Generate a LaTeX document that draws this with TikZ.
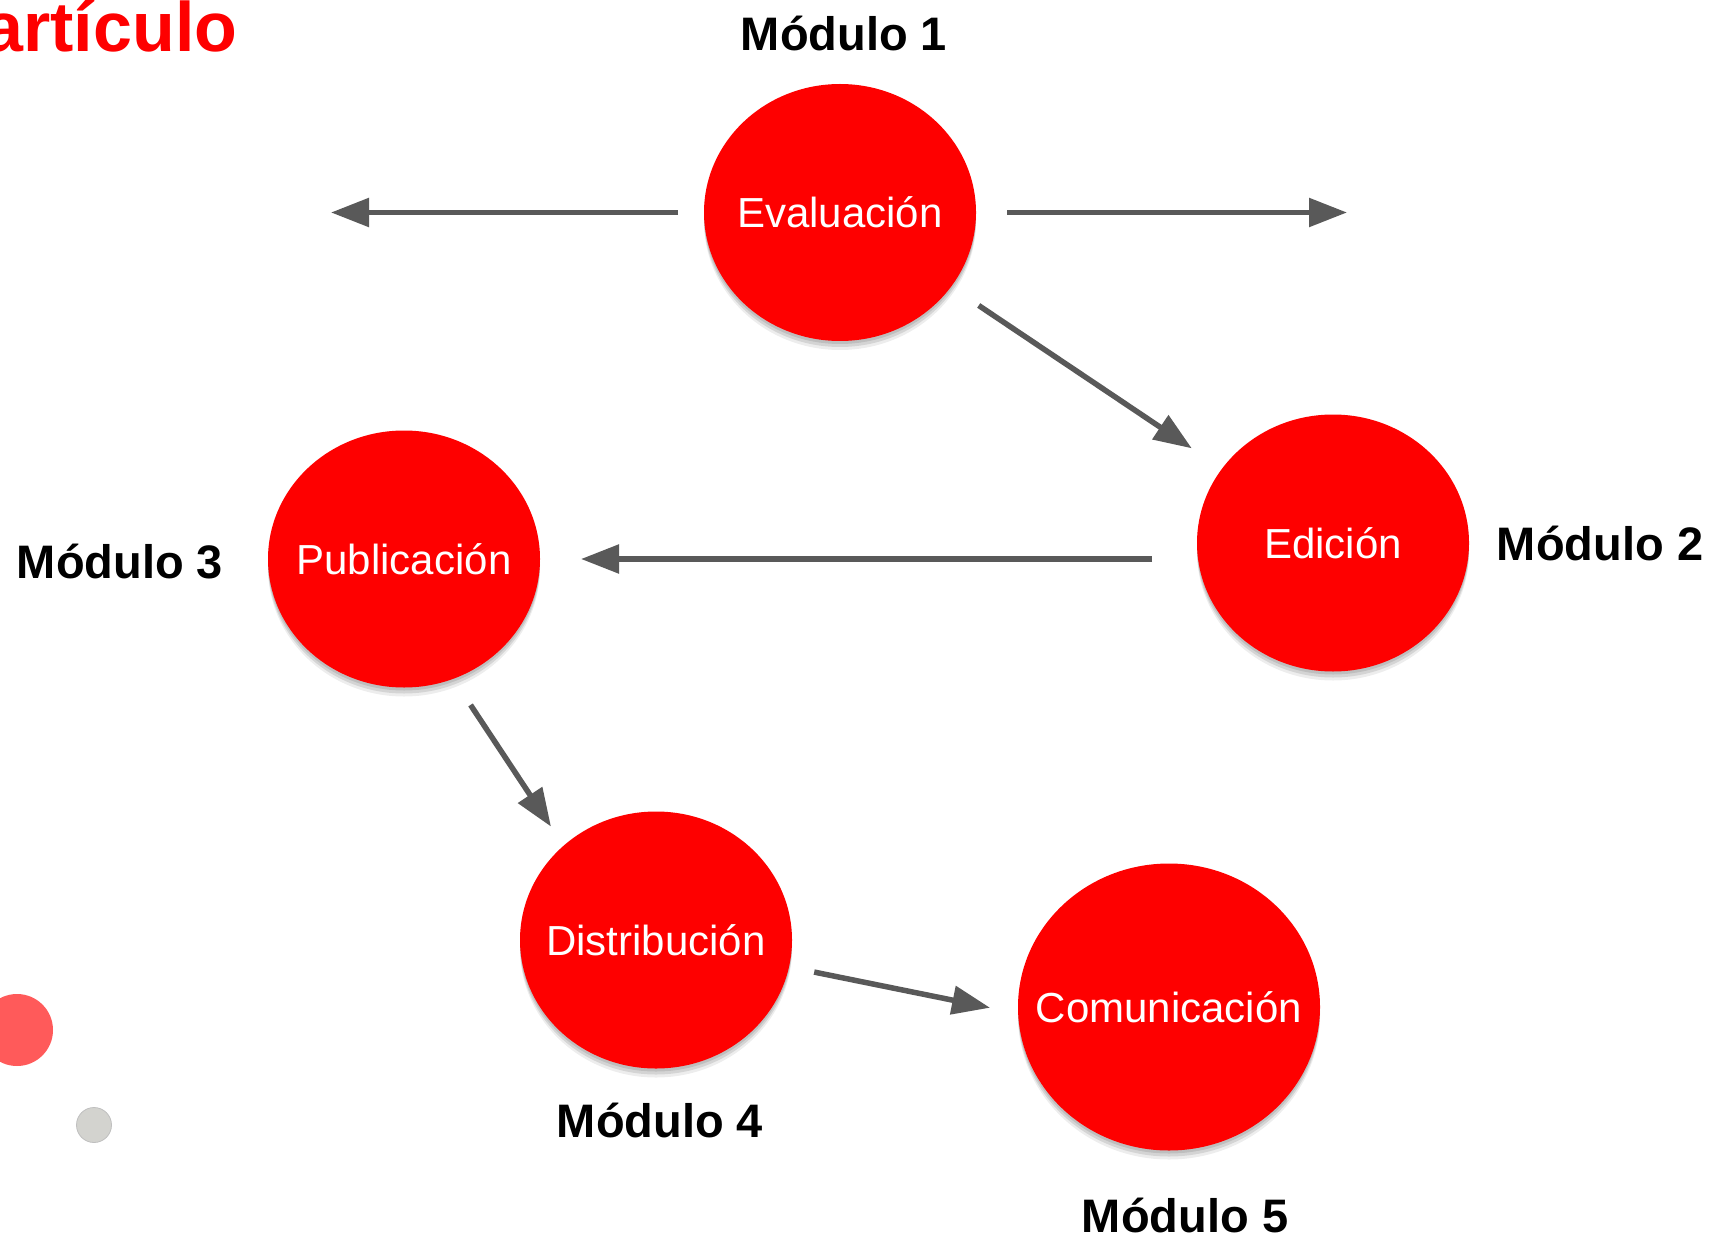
\documentclass[tikz,border=0pt]{standalone}
\usepackage{fontspec}
\setmainfont{Liberation Sans}
\usetikzlibrary{arrows.meta,shapes.geometric,shadows}
\definecolor{myred}{RGB}{254,0,0}
\definecolor{arrowgray}{RGB}{89,89,89}
\definecolor{dotred}{RGB}{255,90,90}
\definecolor{dotgray}{RGB}{211,211,207}
\newcommand{\ctext}[1]{\makebox[0pt][c]{#1}}
\begin{document}
\begin{tikzpicture}[x=0.5pt,y=-0.5pt,
  softshadow/.style={general shadow={shadow yshift=-1.5pt, fill=black, opacity=.10},
                     general shadow={shadow yshift=-3pt, fill=black, opacity=.10},
                     general shadow={shadow yshift=-4.5pt, fill=black, opacity=.07}},
  modcircle/.style={ellipse, fill=myred, inner sep=0pt, minimum width=136pt, minimum height=128.5pt,
                    text=white, font=\fontsize{21}{25}\selectfont, softshadow},
  modlabel/.style={font=\bfseries\fontsize{23.5}{28}\selectfont, text=black, inner sep=0pt, anchor=base},
  flow/.style={draw=arrowgray, line width=2.75pt, -{Triangle[length=19pt,width=14pt]}},
]
\fill[white] (0,0) rectangle (1711,1235);
\useasboundingbox (0,0) rectangle (1711,1235);

% title
\node[anchor=base west, inner sep=0pt, text=myred, font=\bfseries\fontsize{35}{42}\selectfont] (title) at (-16,52) {artículo};

% decorative dots
\fill[dotred] (17,1030) circle[radius=36];
\filldraw[fill=dotgray, draw=black!25, line width=0.4pt] (94,1125) circle[radius=17.5];

% circles
\node[modcircle] (eval) at (840,212.5) {\ctext{Evaluación}};
\node[modcircle] (edic) at (1333,543) {\ctext{Edición}};
\node[modcircle] (publ) at (404,559) {\ctext{Publicación}};
\node[modcircle] (dist) at (656,940) {\ctext{Distribución}};
\node[modcircle, minimum width=151pt, minimum height=143.5pt] (comm) at (1169,1007) {\ctext{Comunicación}};

% labels
\node[modlabel] (m1) at (844,51) {Módulo 1};
\node[modlabel] (m2) at (1600,560) {Módulo 2};
\node[modlabel] (m3) at (120,578) {Módulo 3};
\node[modlabel] (m4) at (660,1137) {Módulo 4};
\node[modlabel] (m5) at (1185,1232) {Módulo 5};

% arrows
\coordinate (lend) at (331,212.5);
\coordinate (rend) at (1347,212.5);
\draw[flow, shorten <=81pt] (eval.center) -- (lend);
\draw[flow, shorten <=83.5pt] (eval.center) -- (rend);
\draw[flow, shorten <=83.5pt, shorten >=85pt] (eval.center) -- (edic.center);
\draw[flow, shorten <=90.5pt, shorten >=88.5pt] (edic.center |- publ.center) -- (publ.center);
\draw[flow, shorten <=87.5pt, shorten >=68pt] ([xshift=-15pt]publ.center) -- ([xshift=-15pt]dist.center);
\draw[flow, shorten <=80.7pt, shorten >=91.3pt] (dist.center) -- ([yshift=-18.5pt]comm.center);
\end{tikzpicture}
\end{document}
